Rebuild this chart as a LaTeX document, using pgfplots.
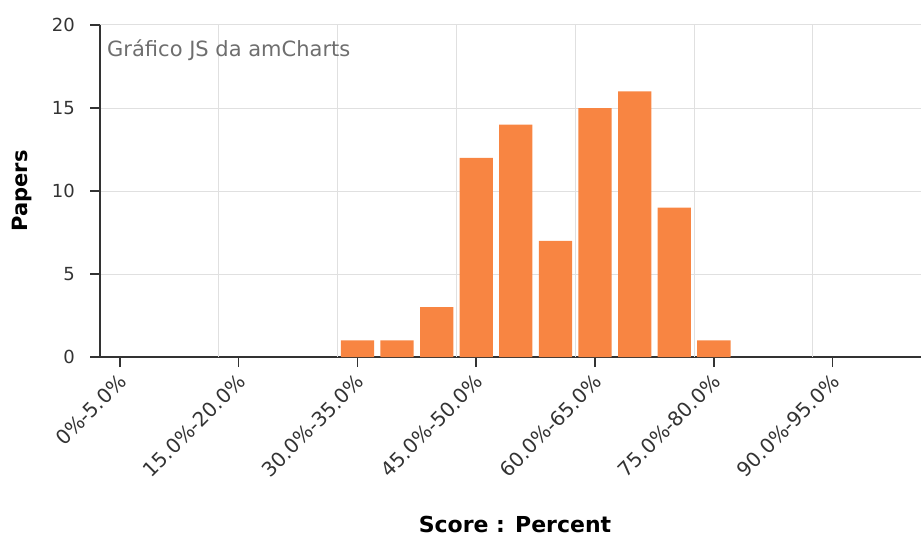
\documentclass[border=0pt]{standalone}
\usepackage{fontspec}
\setmainfont{DejaVu Sans}
\usepackage{pgfplots}
\pgfplotsset{compat=1.18}
\definecolor{barorange}{RGB}{248,133,66}
\definecolor{axisdark}{RGB}{51,51,51}
\definecolor{gridgray}{RGB}{224,224,224}
\definecolor{titlegray}{RGB}{110,110,110}
\begin{document}
\begin{tikzpicture}[x=1pt,y=1pt]
\useasboundingbox (0,0) rectangle (921,536);
\begin{axis}[
  at={(100pt,179pt)}, anchor=south west,
  width=821pt, height=332pt, scale only axis,
  xmin=-0.5, xmax=20.23, ymin=0, ymax=20,
  axis x line*=bottom, axis y line*=left,
  x axis line style={axisdark, line width=2pt},
  y axis line style={axisdark, line width=1.5pt},
  ybar, bar width=0.84,
  ytick={0,5,10,15,20},
  ymajorgrids=true,
  grid style={gridgray, line width=1pt},
  xtick={0,3,6,9,12,15,18},
  xticklabels={0\%-5.0\%,15.0\%-20.0\%,30.0\%-35.0\%,45.0\%-50.0\%,60.0\%-65.0\%,75.0\%-80.0\%,90.0\%-95.0\%},
  extra x ticks={2.5,5.5,8.5,11.5,14.5,17.5},
  extra x tick labels={},
  extra x tick style={grid=major, tick style={draw=none}},
  tick align=outside,
  major tick length=10pt,
  tick style={axisdark, line width=1.5pt},
  /pgf/number format/assume math mode=true,
  yticklabel style={font=\fontsize{18}{21}\selectfont, text=axisdark, inner sep=0pt, xshift=-15pt},
  xticklabel style={font=\fontsize{20}{24}\selectfont, text=axisdark, inner sep=0pt, xshift=3pt, yshift=-11pt, rotate=45, anchor=east},
  xlabel={Score : Percent},
  ylabel={Papers},
  xlabel style={font=\bfseries\fontsize{22}{26}\selectfont, at={(axis description cs:0.5055,0)}, anchor=base, yshift=-175pt},
  ylabel style={font=\bfseries\fontsize{21}{25}\selectfont, at={(axis description cs:0,0.5)}, anchor=center, yshift=78pt},
]
\addplot[fill=barorange, draw=none] coordinates {
  (6,1) (7,1) (8,3) (9,12) (10,14) (11,7) (12,15) (13,16) (14,9) (15,1)
};
\node[anchor=north west, text=titlegray, inner sep=0pt, font=\fontsize{21}{25}\selectfont, xshift=7pt, yshift=-15pt] at (axis description cs:0,1) {Gráfico JS da amCharts};
\end{axis}
\end{tikzpicture}
\end{document}
